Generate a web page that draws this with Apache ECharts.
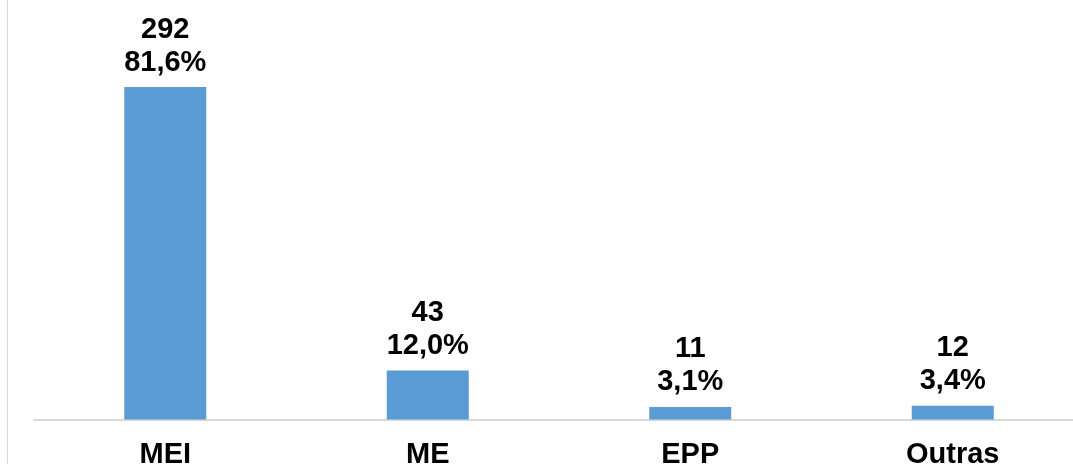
<!DOCTYPE html>
<html>
<head>
<meta charset="utf-8">
<script src="https://cdn.jsdelivr.net/npm/echarts@6/dist/echarts.min.js"></script>
<style>
  html, body { margin: 0; padding: 0; background: #fff; }
  #chart { width: 1073px; height: 464px; }
</style>
</head>
<body>
<div id="chart"></div>
<script>
const categories = ['MEI', 'ME', 'EPP', 'Outras']
const counts = [292, 43, 11, 12]
const percents = [81.6, 12.0, 3.1, 3.4]

const fontFamily = '"Liberation Sans", Arial, sans-serif'

const chart = echarts.init(document.getElementById('chart'))

chart.setOption({
  animation: false,
  graphic: [{
    // left frame line of the original picture
    type: 'rect',
    left: 7,
    top: 0,
    shape: { width: 1, height: 464 },
    style: { fill: '#d9d9d9' }
  }],
  grid: {
    left: 34,
    top: 78,
    width: 1050,
    height: 341.5,
    outerBoundsMode: 'none'
  },
  xAxis: {
    type: 'category',
    data: categories,
    axisLine: { lineStyle: { color: '#d9d9d9', width: 2 } },
    axisTick: { show: false },
    axisLabel: {
      margin: 21,
      color: '#000',
      fontSize: 29,
      fontWeight: 'bold',
      fontFamily: fontFamily
    }
  },
  yAxis: {
    type: 'value',
    min: 0,
    max: 300,
    show: false,
    splitLine: { show: false }
  },
  series: [{
    type: 'bar',
    data: counts,
    barWidth: 82,
    itemStyle: { color: '#5b9bd5' },
    label: {
      show: true,
      position: 'top',
      distance: 8,
      color: '#000',
      fontSize: 29,
      lineHeight: 33,
      fontWeight: 'bold',
      fontFamily: fontFamily,
      formatter: p => counts[p.dataIndex] + '\n' + percents[p.dataIndex].toFixed(1).replace('.', ',') + '%'
    }
  }]
})
</script>
</body>
</html>
